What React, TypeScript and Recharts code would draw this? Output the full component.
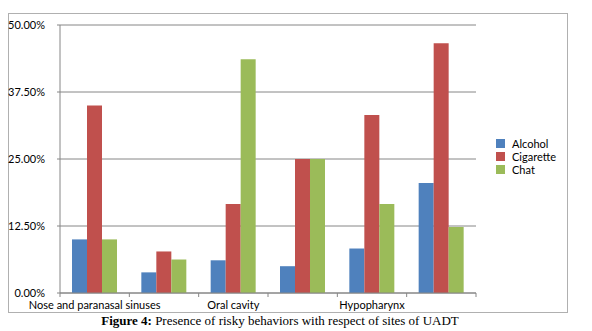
import React from 'react';
import { BarChart, Bar, XAxis, YAxis, CartesianGrid } from 'recharts';

const sites = [
  'Nose and paranasal sinuses',
  'Nasopharynx',
  'Oral cavity',
  'Oropharynx',
  'Hypopharynx',
  'Larynx',
];
const alcohol = [0.1, 0.0385, 0.061, 0.05, 0.083, 0.205];
const cigarette = [0.35, 0.0775, 0.166, 0.25, 0.332, 0.466];
const chat = [0.1, 0.0625, 0.436, 0.25, 0.166, 0.123];
const yTicks = [0, 0.125, 0.25, 0.375, 0.5];

const SERIES = [
  { key: 'Alcohol', color: '#4F81BD' },
  { key: 'Cigarette', color: '#C0504D' },
  { key: 'Chat', color: '#9BBB59' },
];
const FONT = 'Lato, "Open Sans", sans-serif';

const data = sites.map((site, i) => ({
  site,
  Alcohol: alcohol[i],
  Cigarette: cigarette[i],
  Chat: chat[i],
}));

// Excel-style x axis: tick marks between categories, every other label
const SiteTick = ({ x, y, payload, index }: any) => {
  const band = (476 - 60) / sites.length;
  const axisY = 293;
  return (
    <g>
      <line x1={x - band / 2} y1={axisY} x2={x - band / 2} y2={axisY + 4} stroke="#868686" />
      {index === sites.length - 1 && (
        <line x1={x + band / 2} y1={axisY} x2={x + band / 2} y2={axisY + 4} stroke="#868686" />
      )}
      {index % 2 === 0 && (
        <text x={x} y={axisY + 16} textAnchor="middle" fontSize={11} fill="#000" fontFamily={FONT}>
          {payload.value}
        </text>
      )}
    </g>
  );
};

export default function App() {
  return (
    <div style={{ position: 'absolute', left: 0, top: 0, width: 592, height: 331, background: '#fff' }}>
      <div
        style={{
          position: 'absolute',
          left: 8,
          top: 13,
          width: 558,
          height: 298,
          border: '1px solid #b0b0b0',
        }}
      />
      <div style={{ position: 'absolute', left: 0, top: 0 }}>
        <BarChart
          width={592}
          height={331}
          data={data}
          margin={{ top: 25, right: 116, bottom: 18, left: 8 }}
          barGap={0}
          barCategoryGap={12}
        >
          <CartesianGrid vertical={false} stroke="#868686" />
          <XAxis
            dataKey="site"
            interval={0}
            tickLine={false}
            axisLine={{ stroke: '#868686' }}
            tick={<SiteTick />}
            height={20}
          />
          <YAxis
            domain={[0, 0.5]}
            ticks={yTicks}
            width={52}
            tickSize={3}
            tickMargin={12}
            axisLine={{ stroke: '#868686' }}
            tickLine={{ stroke: '#868686' }}
            tick={{ fontSize: 11, fill: '#000', fontFamily: FONT }}
            tickFormatter={(v: number) => `${(v * 100).toFixed(2)}%`}
          />
          {SERIES.map(s => (
            <Bar key={s.key} dataKey={s.key} fill={s.color} isAnimationActive={false} />
          ))}
        </BarChart>
      </div>
      <div style={{ position: 'absolute', left: 496, top: 137, fontFamily: FONT, fontSize: 11, color: '#000' }}>
        {SERIES.map(s => (
          <div key={s.key} style={{ display: 'flex', alignItems: 'center', height: 13 }}>
            <span style={{ width: 9, height: 9, background: s.color, marginRight: 7, display: 'inline-block' }} />
            {s.key}
          </div>
        ))}
      </div>
      <div
        style={{
          position: 'absolute',
          left: 0,
          width: 560,
          top: 313,
          lineHeight: '15px',
          textAlign: 'center',
          fontFamily: '"Liberation Serif", "Times New Roman", serif',
          fontSize: 13,
          color: '#000',
          whiteSpace: 'nowrap',
        }}
      >
        <b>Figure 4:</b> Presence of risky behaviors with respect of sites of UADT
      </div>
    </div>
  );
}
